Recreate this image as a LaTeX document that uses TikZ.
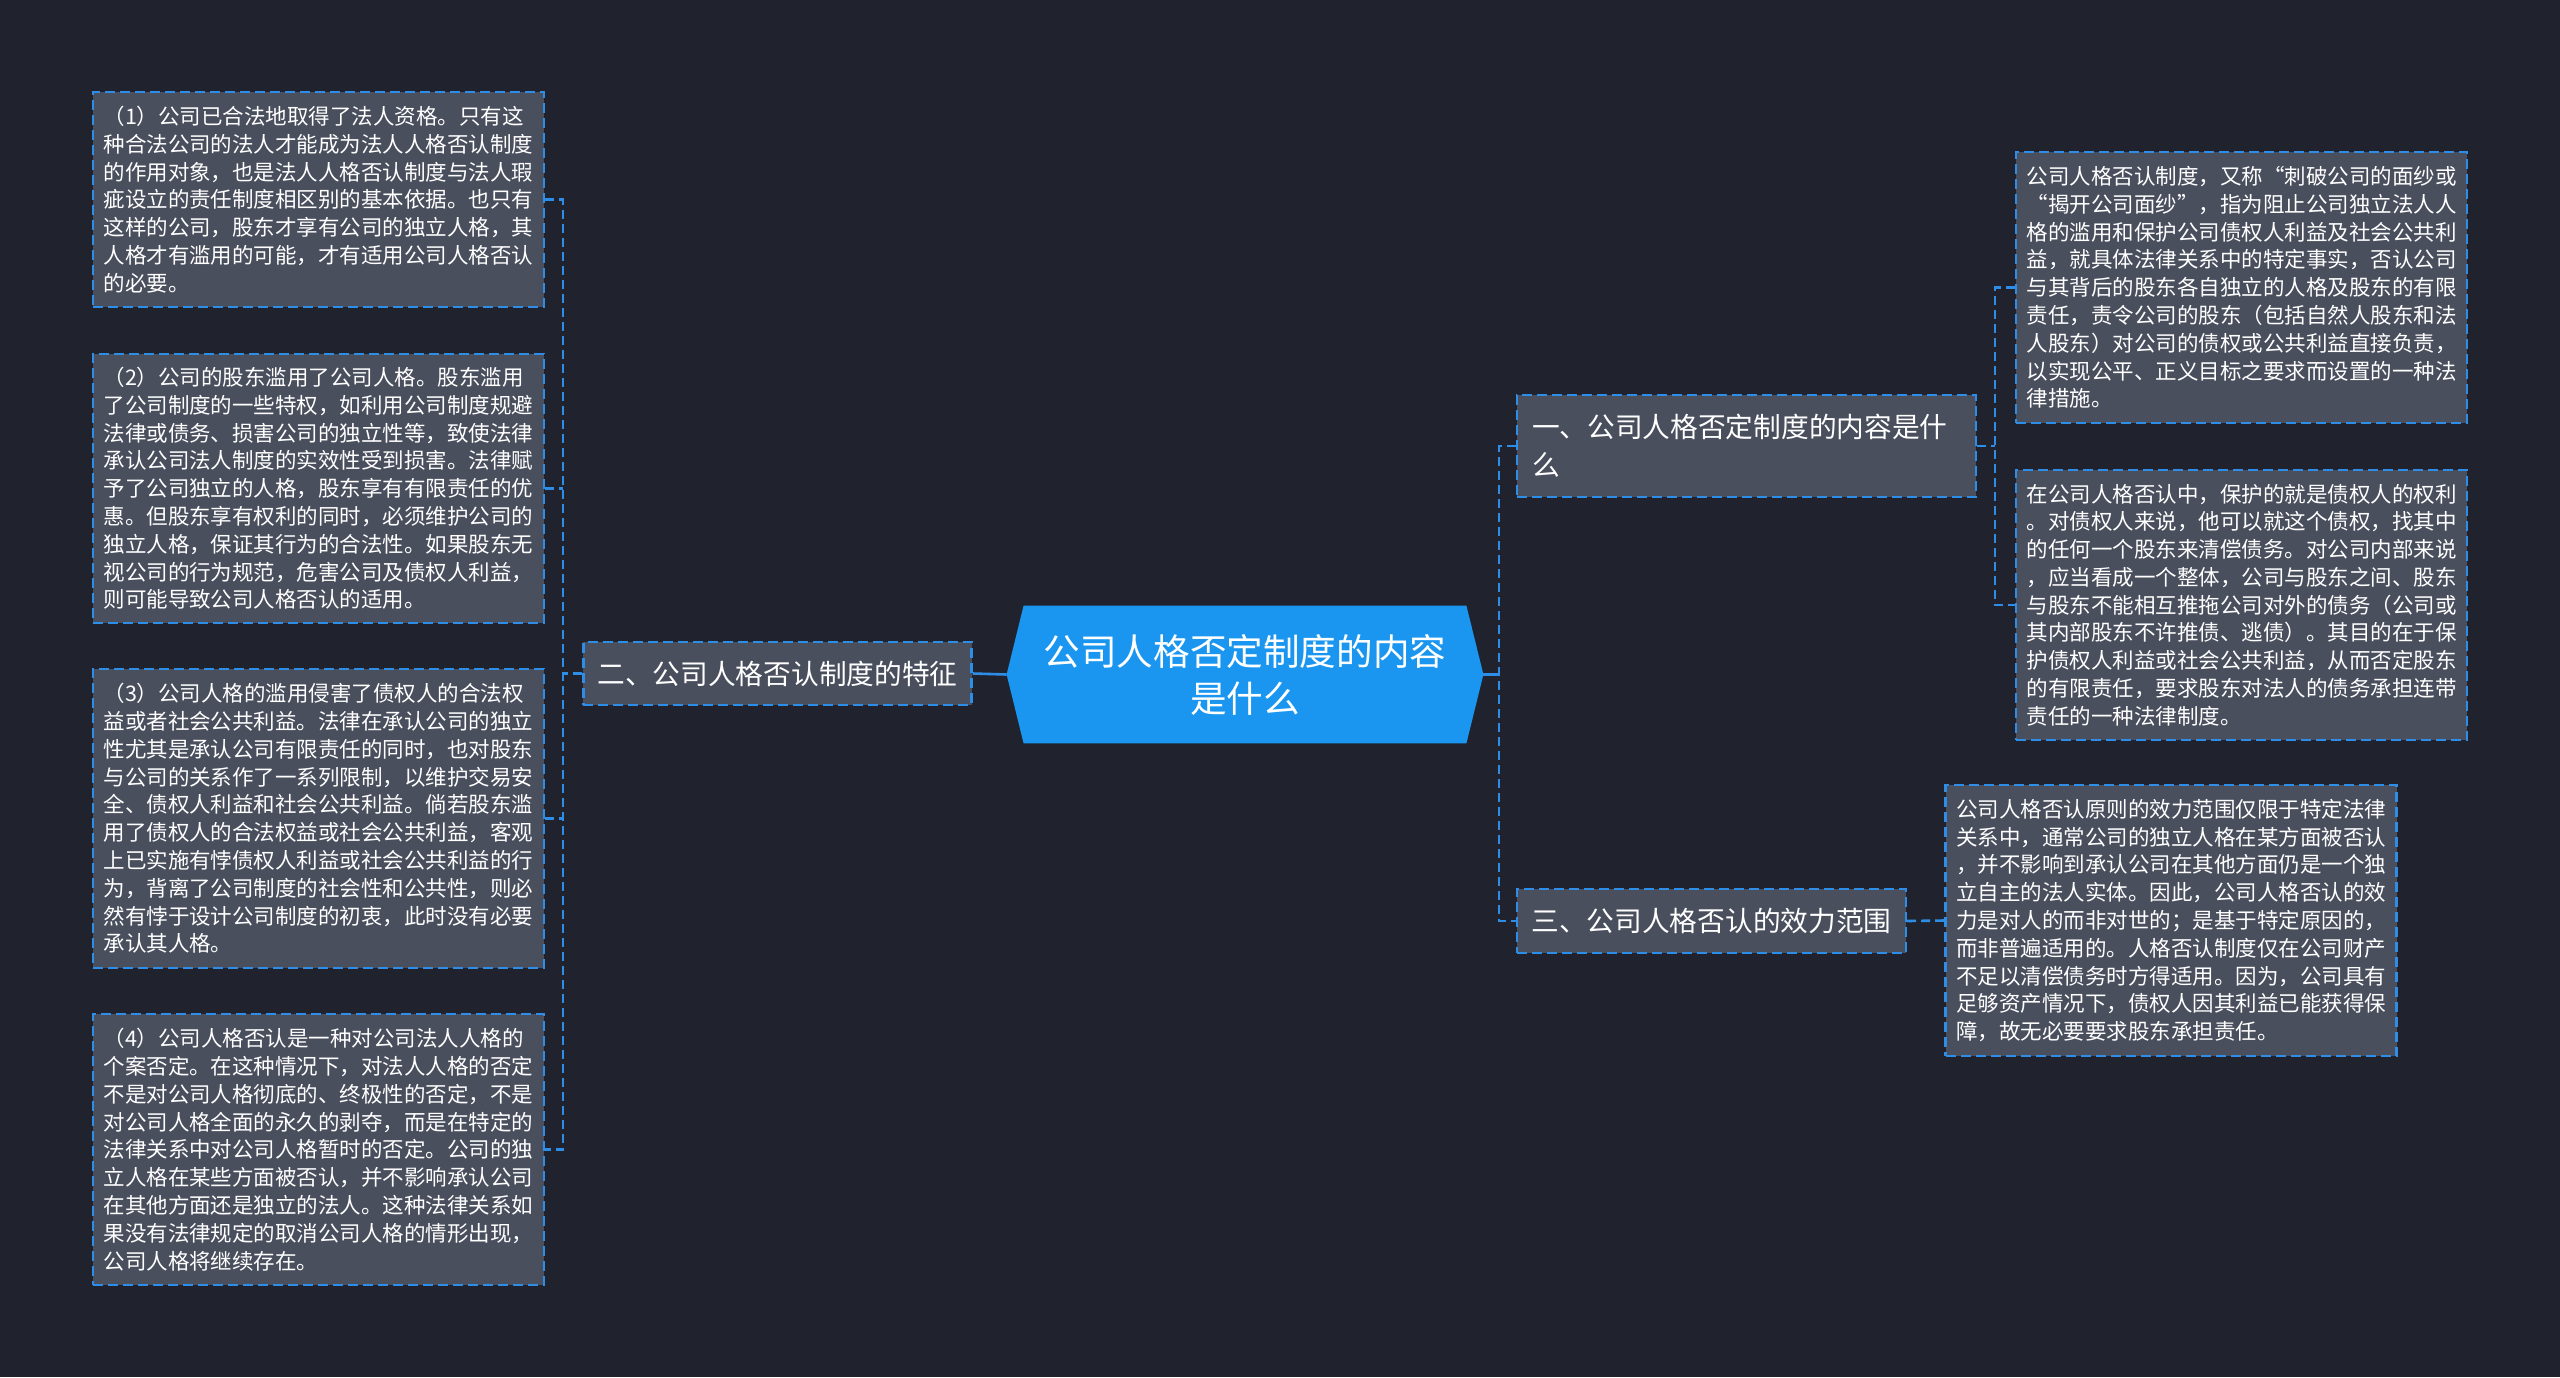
\documentclass[tikz,border=0pt]{standalone}
\usepackage{fontspec}
\newfontfamily\cjk{Noto Sans CJK SC}
\definecolor{bgc}{HTML}{20232E}
\definecolor{boxfill}{HTML}{4A4F5E}
\definecolor{edgeblue}{HTML}{2E8DE6}
\definecolor{rootblue}{HTML}{1A96F0}
\begin{document}
\begin{tikzpicture}[x=0.5pt,y=-0.5pt,
  leaf/.style={draw=edgeblue, line width=1.1pt, dash pattern=on 5pt off 2.5pt,
    fill=boxfill, text=white, align=left, text width=215pt, inner xsep=5.25pt, inner ysep=2pt,
    minimum width=225.5pt, font=\cjk\fontsize{10.75pt}{13.9pt}\selectfont},
  topic/.style={draw=edgeblue, line width=1.1pt, dash pattern=on 5pt off 2.5pt,
    fill=boxfill, text=white, align=left, inner xsep=7pt, inner ysep=2pt,
    font=\cjk\fontsize{13.85pt}{19pt}\selectfont},
  rootnode/.style={text=white, align=center, inner sep=0pt,
    minimum width=238pt, minimum height=68.5pt,
    font=\cjk\fontsize{18.3pt}{23.5pt}\selectfont},
  conn/.style={draw=edgeblue, line width=1.3pt},
  dconn/.style={draw=edgeblue, line width=1.3pt, dash pattern=on 4.5pt off 2.5pt}
]
\fill[bgc] (0,0) rectangle (2560,1377);
\useasboundingbox (0,0) rectangle (2560,1377);

% root
\node[rootnode] (c) at (1245,674.5) {};
\fill[rootblue] (c.west) -- ([xshift=8.5pt]c.north west) -- ([xshift=-8.5pt]c.north east) -- (c.east)
  -- ([xshift=-8.5pt]c.south east) -- ([xshift=8.5pt]c.south west) -- cycle;
\node[rootnode] (ct) at (c.center) {公司人格否定制度的内容\\是什么};

% topics
\node[topic, text width=214.5pt, minimum width=229.5pt, minimum height=51pt, inner xsep=7.5pt] (L1) at (1746.5,446) {一、公司人格否定制度的内容是什\\么};
\node[topic, minimum width=193.5pt, minimum height=31.5pt] (L2) at (777.5,673.5) {二、公司人格否认制度的特征};
\node[topic, minimum width=194.5pt, minimum height=32pt] (L3) at (1711.5,921) {三、公司人格否认的效力范围};

% left leaves
\node[leaf, minimum height=107.5pt] (b1) at (318.5,199.5) {（1）公司已合法地取得了法人资格。只有这\\种合法公司的法人才能成为法人人格否认制度\\的作用对象，也是法人人格否认制度与法人瑕\\疵设立的责任制度相区别的基本依据。也只有\\这样的公司，股东才享有公司的独立人格，其\\人格才有滥用的可能，才有适用公司人格否认\\的必要。};
\node[leaf, minimum height=134.5pt] (b2) at (318.5,488.5) {（2）公司的股东滥用了公司人格。股东滥用\\了公司制度的一些特权，如利用公司制度规避\\法律或债务、损害公司的独立性等，致使法律\\承认公司法人制度的实效性受到损害。法律赋\\予了公司独立的人格，股东享有有限责任的优\\惠。但股东享有权利的同时，必须维护公司的\\独立人格，保证其行为的合法性。如果股东无\\视公司的行为规范，危害公司及债权人利益，\\则可能导致公司人格否认的适用。};
\node[leaf, minimum height=149.5pt] (b3) at (318.5,818.5) {（3）公司人格的滥用侵害了债权人的合法权\\益或者社会公共利益。法律在承认公司的独立\\性尤其是承认公司有限责任的同时，也对股东\\与公司的关系作了一系列限制，以维护交易安\\全、债权人利益和社会公共利益。倘若股东滥\\用了债权人的合法权益或社会公共利益，客观\\上已实施有悖债权人利益或社会公共利益的行\\为，背离了公司制度的社会性和公共性，则必\\然有悖于设计公司制度的初衷，此时没有必要\\承认其人格。};
\node[leaf, minimum height=135.5pt] (b4) at (318.5,1149.5) {（4）公司人格否认是一种对公司法人人格的\\个案否定。在这种情况下，对法人人格的否定\\不是对公司人格彻底的、终极性的否定，不是\\对公司人格全面的永久的剥夺，而是在特定的\\法律关系中对公司人格暂时的否定。公司的独\\立人格在某些方面被否认，并不影响承认公司\\在其他方面还是独立的法人。这种法律关系如\\果没有法律规定的取消公司人格的情形出现，\\公司人格将继续存在。};

% right leaves
\node[leaf, minimum height=135.5pt] (r1) at (2241.5,287.5) {公司人格否认制度，又称“刺破公司的面纱或\\“揭开公司面纱”，指为阻止公司独立法人人\\格的滥用和保护公司债权人利益及社会公共利\\益，就具体法律关系中的特定事实，否认公司\\与其背后的股东各自独立的人格及股东的有限\\责任，责令公司的股东（包括自然人股东和法\\人股东）对公司的债权或公共利益直接负责，\\以实现公平、正义目标之要求而设置的一种法\\律措施。};
\node[leaf, minimum height=135pt] (r2) at (2241.5,605) {在公司人格否认中，保护的就是债权人的权利\\。对债权人来说，他可以就这个债权，找其中\\的任何一个股东来清偿债务。对公司内部来说\\，应当看成一个整体，公司与股东之间、股东\\与股东不能相互推拖公司对外的债务（公司或\\其内部股东不许推债、逃债）。其目的在于保\\护债权人利益或社会公共利益，从而否定股东\\的有限责任，要求股东对法人的债务承担连带\\责任的一种法律制度。};
\node[leaf, minimum height=135.5pt] (r3) at (2171,920.5) {公司人格否认原则的效力范围仅限于特定法律\\关系中，通常公司的独立人格在某方面被否认\\，并不影响到承认公司在其他方面仍是一个独\\立自主的法人实体。因此，公司人格否认的效\\力是对人的而非对世的；是基于特定原因的，\\而非普遍适用的。人格否认制度仅在公司财产\\不足以清偿债务时方得适用。因为，公司具有\\足够资产情况下，债权人因其利益已能获得保\\障，故无必要要求股东承担责任。};

% junction coordinates
\coordinate (jr) at (1499,674.5);
\coordinate (jl) at (563,673.5);
\coordinate (jr1) at (1995,446);

% connectors: root to topics
\draw[conn] (c.east) -- (jr);
\draw[dconn] (L1.west) -- (L1.west -| jr) -- (L3.west -| jr) -- (L3.west);
\draw[conn] (c.west) -- (L2.east);

% left subtree
\draw[dconn] (L2.west) -- (jl);
\draw[dconn] (b1.east) -- (b1.east -| jl) -- (b4.east -| jl) -- (b4.east);
\draw[dconn] (b2.east) -- (b2.east -| jl);
\draw[dconn] (b3.east) -- (b3.east -| jl);

% right subtrees
\draw[dconn] (L1.east) -- (jr1);
\draw[dconn] (r1.west) -- (r1.west -| jr1) -- (r2.west -| jr1) -- (r2.west);
\draw[dconn] (L3.east) -- (r3.west);
\end{tikzpicture}
\end{document}
